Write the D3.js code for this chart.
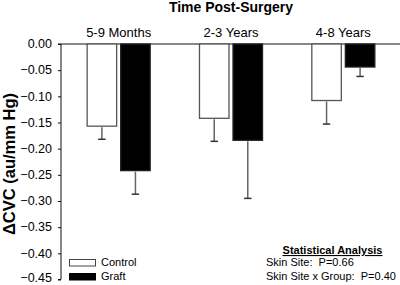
<!DOCTYPE html>
<html>
<head>
<meta charset="utf-8">
<script src="https://cdn.jsdelivr.net/npm/d3@7/dist/d3.min.js"></script>
<style>
  html, body { margin: 0; padding: 0; background: #fff; }
  svg { display: block; font-family: Arial, "Liberation Sans", sans-serif; }
</style>
</head>
<body>
<svg id="chart" width="400" height="285"></svg>
<script>
const categories = ["5-9 Months", "2-3 Years", "4-8 Years"];
const seriesNames = ["Control", "Graft"];
const controlValues = [-0.157, -0.142, -0.108];
const controlErrors = [0.025, 0.044, 0.045];
const graftValues = [-0.242, -0.184, -0.044];
const graftErrors = [0.045, 0.111, 0.018];
const yTicks = [0, -0.05, -0.10, -0.15, -0.20, -0.25, -0.30, -0.35, -0.40, -0.45];
const statLines = ["Skin Site:  P=0.66", "Skin Site x Group:  P=0.40"];

const svg = d3.select("#chart");
const mLeft = 61, mRight = 399.5, mTop = 44, mBottom = 279.5;

const y = d3.scaleLinear().domain([0, -0.45]).range([mTop, mBottom]);
const x0 = d3.scaleBand().domain(categories).range([62.5, mRight])
  .paddingInner(0.43).paddingOuter(0.215);
const x1 = d3.scaleBand().domain(seriesNames).range([0, x0.bandwidth()]).paddingInner(0.09);

const rows = categories.map((c, i) => ({
  cat: c,
  items: [
    { s: "Control", v: controlValues[i], e: controlErrors[i] },
    { s: "Graft", v: graftValues[i], e: graftErrors[i] }
  ]
}));

// Y axis
const yAxis = d3.axisLeft(y).tickValues(yTicks).tickSize(3).tickPadding(6)
  .tickFormat(d3.format(".2f"));
const ga = svg.append("g").attr("transform", `translate(${mLeft},0)`).call(yAxis);
ga.select(".domain").attr("stroke", "#111").attr("d", `M-3,${y(0)}H0V${y(-0.45)}H-3`);
ga.selectAll(".tick line").attr("stroke", "#111");
ga.selectAll(".tick text").attr("font-size", 12.5).attr("fill", "#000")
  .attr("dy", (d, i, n) => i === n.length - 1 ? "0.15em" : "0.3em")
  .attr("font-family", "Arial, 'Liberation Sans', sans-serif");

// top x line at zero
svg.append("line").attr("x1", mLeft).attr("x2", 400).attr("y1", y(0)).attr("y2", y(0))
  .attr("stroke", "#111").attr("stroke-width", 1);

// bars
const groups = svg.append("g").selectAll("g").data(rows).join("g")
  .attr("transform", d => `translate(${x0(d.cat)},0)`);

groups.selectAll("rect").data(d => d.items).join("rect")
  .attr("x", d => x1(d.s) + 0.5)
  .attr("y", y(0))
  .attr("width", x1.bandwidth() - 1)
  .attr("height", d => y(d.v) - y(0))
  .attr("fill", d => d.s === "Control" ? "#fff" : "#000")
  .attr("stroke", d => d.s === "Control" ? "#555" : "#222")
  .attr("stroke-width", 1.3);

// error bars (downward only)
groups.selectAll("line.stem").data(d => d.items).join("line").attr("class", "stem")
  .attr("x1", d => x1(d.s) + x1.bandwidth() / 2)
  .attr("x2", d => x1(d.s) + x1.bandwidth() / 2)
  .attr("y1", d => y(d.v) + 1)
  .attr("y2", d => y(d.v - d.e))
  .attr("stroke", "#666").attr("stroke-width", 1.5);
groups.selectAll("line.cap").data(d => d.items).join("line").attr("class", "cap")
  .attr("x1", d => x1(d.s) + x1.bandwidth() / 2 - 3.7)
  .attr("x2", d => x1(d.s) + x1.bandwidth() / 2 + 3.7)
  .attr("y1", d => y(d.v - d.e))
  .attr("y2", d => y(d.v - d.e))
  .attr("stroke", "#333").attr("stroke-width", 1.5);

// group labels
svg.append("g").selectAll("text").data(categories).join("text")
  .attr("x", d => x0(d) + x0.bandwidth() / 2)
  .attr("y", 37)
  .attr("text-anchor", "middle")
  .attr("font-size", 13)
  .text(d => d);

// title
svg.append("text").attr("x", (62.5 + mRight) / 2).attr("y", 12)
  .attr("text-anchor", "middle").attr("font-size", 14).attr("font-weight", "bold")
  .text("Time Post-Surgery");

// y title
svg.append("text").attr("transform", `translate(15,164) rotate(-90)`)
  .attr("text-anchor", "middle").attr("font-size", 16.5).attr("font-weight", "bold")
  .text("ΔCVC (au/mm Hg)");

// legend
const legend = svg.append("g").selectAll("g").data(seriesNames).join("g")
  .attr("transform", (d, i) => `translate(69,${259 + i * 14})`);
legend.append("rect").attr("x", 0.5).attr("y", 0.5).attr("width", 26).attr("height", 6.5)
  .attr("fill", d => d === "Control" ? "#fff" : "#000")
  .attr("stroke", d => d === "Control" ? "#444" : "#000").attr("stroke-width", 1);
legend.append("text").attr("x", 32).attr("y", 7).attr("font-size", 11).text(d => d);

// stats
svg.append("text").attr("x", 332.5).attr("y", 254).attr("text-anchor", "middle")
  .attr("font-size", 11).attr("font-weight", "bold").attr("text-decoration", "underline")
  .text("Statistical Analysis");
svg.append("g").selectAll("text").data(statLines).join("text")
  .attr("x", 266).attr("y", (d, i) => 266 + i * 14)
  .attr("font-size", 11).style("white-space", "pre").attr("xml:space", "preserve")
  .text(d => d);
</script>
</body>
</html>
